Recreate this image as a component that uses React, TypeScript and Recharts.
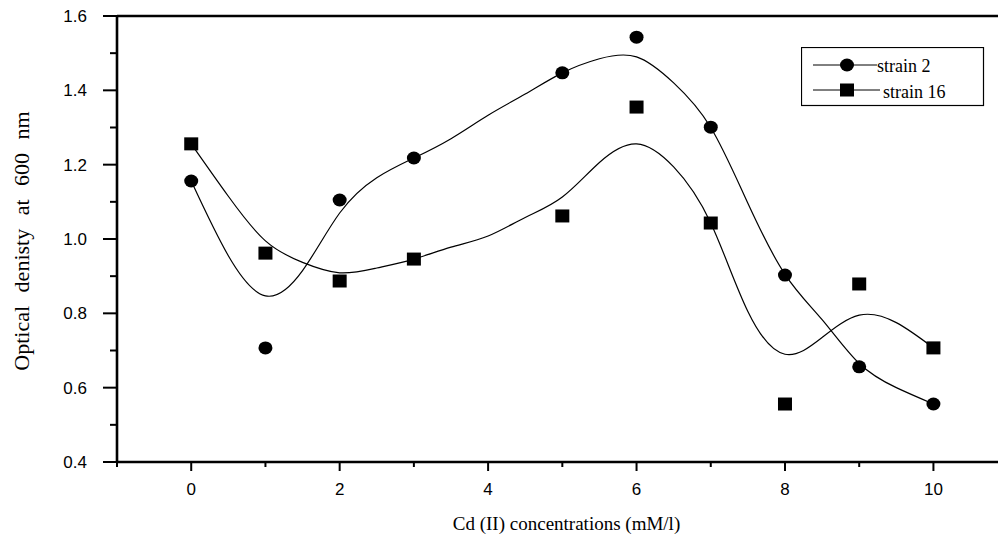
import React from 'react';
import { ComposedChart, Line, Scatter, XAxis, YAxis, ReferenceLine, Legend, Label } from 'recharts';

// Measured optical density at 600 nm for each Cd(II) concentration (mM/l)
const concentrations = [0, 1, 2, 3, 5, 6, 7, 8, 9, 10];
const strain2 = [1.156, 0.707, 1.105, 1.218, 1.447, 1.543, 1.301, 0.903, 0.656, 0.556];
const strain16 = [1.256, 0.962, 0.887, 0.946, 1.062, 1.355, 1.043, 0.556, 0.879, 0.707];

// Smoothed trend curves
const fitX = [0, 0.5, 1, 1.5, 2, 2.5, 3, 3.5, 4, 4.5, 5, 5.5, 6, 6.5, 7, 7.5, 8, 8.5, 9, 9.5, 10];
const fit2 = [1.156, 0.955, 0.847, 0.915, 1.07, 1.165, 1.218, 1.27, 1.333, 1.39, 1.447, 1.485, 1.49, 1.42, 1.3, 1.096, 0.905, 0.783, 0.665, 0.6, 0.556];
const fit16 = [1.256, 1.115, 0.995, 0.937, 0.909, 0.922, 0.946, 0.978, 1.008, 1.058, 1.113, 1.206, 1.256, 1.194, 1.043, 0.805, 0.69, 0.735, 0.795, 0.775, 0.707];

const xTicks = [-1, 0, 1, 2, 3, 4, 5, 6, 7, 8, 9, 10];
const yTicks = [0.4, 0.5, 0.6, 0.7, 0.8, 0.9, 1.0, 1.1, 1.2, 1.3, 1.4, 1.5, 1.6];

const toPoints = (xs: number[], ys: number[]) => xs.map((x, i) => ({ x, y: ys[i] }));
const points2 = toPoints(concentrations, strain2);
const points16 = toPoints(concentrations, strain16);
const curve2 = toPoints(fitX, fit2);
const curve16 = toPoints(fitX, fit16);

const SANS = '"Liberation Sans", Arial, sans-serif';
const SERIF = '"Liberation Serif", "Times New Roman", serif';
const INK = '#000';

const XTick = (props: any) => {
  const { x, y, payload } = props;
  const v = payload.value;
  const major = v >= 0 && v % 2 === 0;
  return (
    <g>
      <line x1={x} x2={x} y1={y} y2={y + (major ? 9 : 5)} stroke={INK} strokeWidth={2} />
      {major && (
        <text x={x} y={y + 33} textAnchor="middle" fontFamily={SANS} fontSize={17} fill={INK}>
          {v}
        </text>
      )}
    </g>
  );
};

const YTick = (props: any) => {
  const { x, y, payload } = props;
  const v = payload.value;
  const major = Math.round(v * 10) % 2 === 0;
  return (
    <g>
      <line x1={x - (major ? 14 : 7)} x2={x + 1} y1={y} y2={y} stroke={INK} strokeWidth={2} />
      {major && (
        <text x={x - 30} y={y + 6} textAnchor="end" fontFamily={SANS} fontSize={17} fill={INK}>
          {v.toFixed(1)}
        </text>
      )}
    </g>
  );
};

const Dot = (props: any) => {
  const { cx, cy } = props;
  return <ellipse cx={cx} cy={cy} rx={7} ry={6.5} fill={INK} />;
};

const Square = (props: any) => {
  const { cx, cy } = props;
  return <rect x={cx - 7} y={cy - 6.5} width={14} height={13} fill={INK} />;
};

const LegendBox = () => (
  <svg width={184} height={60} style={{ display: 'block' }}>
    <rect x={0.5} y={0.5} width={182} height={58} fill="#fff" stroke={INK} strokeWidth={1.2} />
    <line x1={12} x2={76} y1={18} y2={18} stroke={INK} strokeWidth={1} />
    <ellipse cx={46} cy={18} rx={7} ry={6.5} fill={INK} />
    <text x={76} y={25} fontFamily={SERIF} fontSize={18} fill={INK}>strain 2</text>
    <line x1={12} x2={79} y1={43} y2={43} stroke={INK} strokeWidth={1} />
    <rect x={39} y={36.5} width={14} height={13} fill={INK} />
    <text x={82} y={51} fontFamily={SERIF} fontSize={18} fill={INK}>strain 16</text>
  </svg>
);

const XTitle = (props: any) => {
  const { viewBox } = props;
  return (
    <text x={viewBox.x + viewBox.width / 2 + 9} y={viewBox.y + 68} textAnchor="middle" fontFamily={SERIF} fontSize={19} fill={INK}>
      Cd (II) concentrations (mM/l)
    </text>
  );
};

const YTitle = (props: any) => {
  const { viewBox } = props;
  const cx = 29;
  const cy = viewBox.y + viewBox.height / 2 + 2;
  return (
    <text
      x={cx}
      y={cy}
      transform={`rotate(-90 ${cx} ${cy})`}
      textAnchor="middle"
      fontFamily={SERIF}
      fontSize={22}
      wordSpacing={8}
      fill={INK}
    >
      Optical denisty at 600 nm
    </text>
  );
};

export default function App() {
  return (
    <div style={{ position: 'absolute', left: 0, top: 0, width: 998, height: 539, background: '#fff' }}>
      <ComposedChart width={998} height={539} margin={{ top: 16, right: 0, bottom: 76, left: 116 }}>
        <XAxis
          type="number"
          dataKey="x"
          domain={[-1, 10.87]}
          ticks={xTicks}
          interval={0}
          height={1}
          tickSize={0}
          tickMargin={0}
          tickLine={false}
          tick={<XTick />}
          stroke={INK}
          axisLine={{ stroke: INK, strokeWidth: 2.6 }}
          allowDataOverflow
        >
          <Label content={<XTitle />} />
        </XAxis>
        <YAxis
          type="number"
          dataKey="y"
          domain={[0.4, 1.6]}
          ticks={yTicks}
          interval={0}
          width={1}
          tickSize={0}
          tickMargin={0}
          tickLine={false}
          tick={<YTick />}
          stroke={INK}
          axisLine={{ stroke: INK, strokeWidth: 2.6 }}
          allowDataOverflow
        >
          <Label content={<YTitle />} />
        </YAxis>
        <ReferenceLine y={1.6} stroke={INK} strokeWidth={2.4} />
        <Line data={curve2} dataKey="y" type="natural" stroke={INK} strokeWidth={1.2} dot={false} isAnimationActive={false} legendType="none" />
        <Line data={curve16} dataKey="y" type="natural" stroke={INK} strokeWidth={1.2} dot={false} isAnimationActive={false} legendType="none" />
        <Scatter name="strain 2" data={points2} dataKey="y" shape={<Dot />} isAnimationActive={false} />
        <Scatter name="strain 16" data={points16} dataKey="y" shape={<Square />} isAnimationActive={false} />
        <Legend
          layout="vertical"
          verticalAlign="middle"
          align="center"
          content={<LegendBox />}
          wrapperStyle={{ position: 'absolute', left: 801, top: 47, width: 184, height: 60 }}
        />
      </ComposedChart>
    </div>
  );
}
